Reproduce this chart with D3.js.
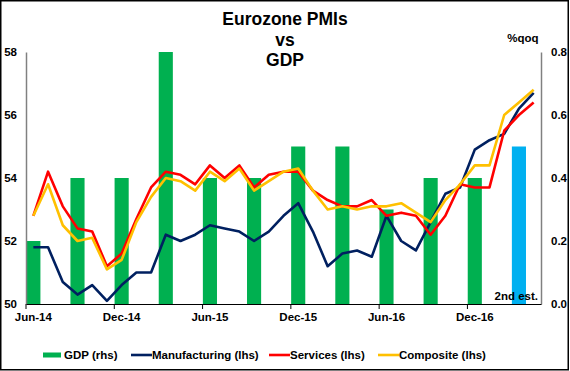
<!DOCTYPE html>
<html>
<head>
<meta charset="utf-8">
<script src="https://cdn.jsdelivr.net/npm/d3@7"></script>
<style>
  body { margin: 0; background: #fff; }
  text { font-family: "Liberation Sans", Arial, sans-serif; font-weight: bold; }
</style>
</head>
<body>
<svg id="target"></svg>
<script>
const months = ["Jun-14","Jul-14","Aug-14","Sep-14","Oct-14","Nov-14","Dec-14","Jan-15","Feb-15","Mar-15","Apr-15","May-15",
  "Jun-15","Jul-15","Aug-15","Sep-15","Oct-15","Nov-15","Dec-15","Jan-16","Feb-16","Mar-16","Apr-16","May-16",
  "Jun-16","Jul-16","Aug-16","Sep-16","Oct-16","Nov-16","Dec-16","Jan-17","Feb-17","Mar-17","Apr-17"];
const manufacturing = [51.8,51.8,50.7,50.3,50.6,50.1,50.6,51.0,51.0,52.2,52.0,52.2,52.5,52.4,52.3,52.0,52.3,52.8,
  53.2,52.3,51.2,51.6,51.7,51.5,52.8,52.0,51.7,52.6,53.5,53.7,54.9,55.2,55.4,56.2,56.7];
const services = [52.8,54.2,53.1,52.4,52.3,51.2,51.6,52.7,53.7,54.2,54.1,53.8,54.4,54.0,54.4,53.7,54.1,54.2,
  54.2,53.6,53.3,53.1,53.1,53.3,52.8,52.9,52.8,52.2,52.8,53.8,53.7,53.7,55.5,56.0,56.4];
const composite = [52.8,53.8,52.5,52.0,52.1,51.1,51.4,52.6,53.4,54.0,53.9,53.6,54.2,53.9,54.3,53.6,53.9,54.2,
  54.3,53.6,53.0,53.1,53.0,53.1,53.1,53.2,52.9,52.6,53.3,53.8,54.4,54.4,56.0,56.4,56.8];
const gdpQuarters = ["Jun-14","Sep-14","Dec-14","Mar-15","Jun-15","Sep-15","Dec-15","Mar-16","Jun-16","Sep-16","Dec-16","Mar-17"];
const gdp = [0.2,0.4,0.4,0.8,0.4,0.4,0.5,0.5,0.3,0.4,0.4,0.5];
const tickMonths = ["Jun-14","Dec-14","Jun-15","Dec-15","Jun-16","Dec-16"];
const leftTicks = [50,52,54,56,58];
const rightTicks = [0.0,0.2,0.4,0.6,0.8];

const width = 570, height = 371;
const fs = 11.5;
const colors = { gdp: "#00b050", est: "#00b0f0", man: "#002060", serv: "#ff0000", comp: "#ffc000" };

const svg = d3.select("#target").attr("width", width).attr("height", height);

// frame
svg.append("rect").attr("x", 0.75).attr("y", 0.75).attr("width", 567.5).attr("height", 369)
  .attr("fill", "#fff").attr("stroke", "#000").attr("stroke-width", 1.5);

const x = d3.scaleBand().domain(months).range([26, 541]).padding(0);
const yL = d3.scaleLinear().domain([50, 58]).range([304, 52]);
const yR = d3.scaleLinear().domain([0, 0.8]).range([304, 52]);

// bars
svg.append("g").selectAll("rect")
  .data(gdpQuarters.map((m, i) => ({ m, v: gdp[i], est: i === gdpQuarters.length - 1 })))
  .enter().append("rect")
    .attr("x", d => x(d.m) + 0.3)
    .attr("width", x.bandwidth() - 0.6)
    .attr("y", d => yR(d.v))
    .attr("height", d => yR(0) - yR(d.v))
    .attr("fill", d => d.est ? colors.est : colors.gdp);

svg.append("text").attr("x", 538).attr("y", 300).attr("text-anchor", "end")
  .attr("font-size", fs).text("2nd est.");

// axes
const leftAxis = svg.append("g").attr("transform", "translate(26,0)")
  .call(d3.axisLeft(yL).tickValues(leftTicks).tickSize(0).tickPadding(9).tickFormat(d3.format("d")));
leftAxis.select(".domain").attr("stroke", "#808080").attr("stroke-width", 1.5);

const rightAxis = svg.append("g").attr("transform", "translate(541,0)")
  .call(d3.axisRight(yR).tickValues(rightTicks).tickSize(0).tickPadding(10).tickFormat(d3.format(".1f")));
rightAxis.select(".domain").attr("stroke", "#808080").attr("stroke-width", 1.5);

const bottomAxis = svg.append("g").attr("transform", "translate(0,304)")
  .call(d3.axisBottom(x).tickValues(tickMonths).tickSize(0).tickPadding(9));
bottomAxis.select(".domain").attr("stroke", "#000").attr("stroke-width", 1.2);

svg.append("g").selectAll("line").data(tickMonths).enter().append("line")
  .attr("x1", d => x(d)).attr("x2", d => x(d))
  .attr("y1", 304).attr("y2", 309)
  .attr("stroke", "#000").attr("stroke-width", 1);

svg.selectAll(".tick text").attr("font-size", fs).attr("fill", "#000")
  .attr("font-family", "'Liberation Sans', Arial, sans-serif").attr("font-weight", "bold");

// lines
const series = [
  { name: "Manufacturing (lhs)", values: manufacturing, color: colors.man },
  { name: "Services (lhs)", values: services, color: colors.serv },
  { name: "Composite (lhs)", values: composite, color: colors.comp }
];
const line = d3.line()
  .x((d, i) => x(months[i]) + x.bandwidth() / 2)
  .y(d => yL(d));

svg.append("g").selectAll("path").data(series).enter().append("path")
  .attr("d", d => line(d.values))
  .attr("fill", "none")
  .attr("stroke", d => d.color)
  .attr("stroke-width", 2.6)
  .attr("stroke-linejoin", "round");

// title
const title = svg.append("text").attr("text-anchor", "middle").attr("font-size", 17.5);
["Eurozone PMIs", "vs", "GDP"].forEach((t, i) =>
  title.append("tspan").attr("x", 285).attr("y", 25 + i * 20.5).text(t));

svg.append("text").attr("x", 523).attr("y", 42).attr("text-anchor", "middle")
  .attr("font-size", fs).text("%qoq");

// legend
const legend = svg.append("g").attr("font-size", fs);
legend.append("rect").attr("x", 43).attr("y", 352.5).attr("width", 18).attr("height", 5).attr("fill", colors.gdp);
legend.append("text").attr("x", 64).attr("y", 359).text("GDP (rhs)");
const legX = [131, 269, 378];
series.forEach((s, i) => {
  legend.append("line").attr("x1", legX[i]).attr("x2", legX[i] + 21)
    .attr("y1", 355).attr("y2", 355).attr("stroke", s.color).attr("stroke-width", 2.6);
  legend.append("text").attr("x", legX[i] + 21).attr("y", 359).text(s.name);
});
</script>
</body>
</html>
